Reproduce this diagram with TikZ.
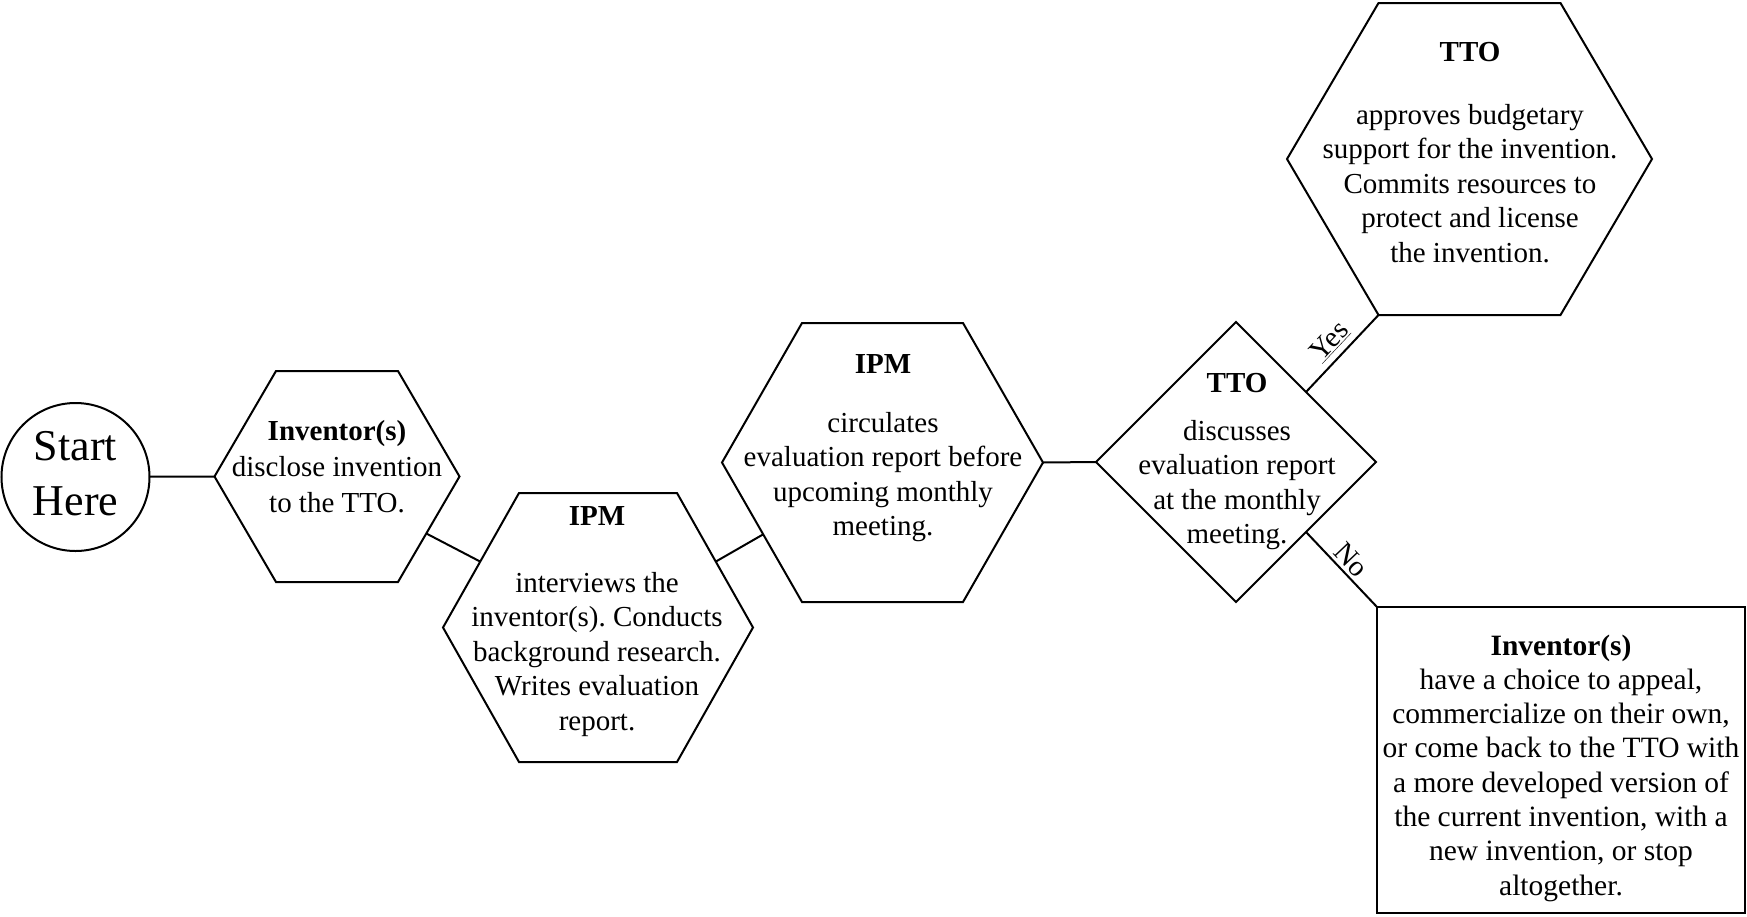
\documentclass[tikz,border=0pt]{standalone}
\usepackage{fontspec}
\setmainfont{Liberation Serif}
\frenchspacing
\usetikzlibrary{calc,shapes.geometric}
\tikzset{
  frame/.style={draw=black, line width=2pt},
  txt/.style={inner sep=0pt, outer sep=0pt, anchor=north, font=\fontsize{29}{34.5}\selectfont},
  lbl/.style={sloped, above, inner sep=3pt, font=\fontsize{29}{34.5}\selectfont},
}
\newcommand\hexframe[6]{%
  \coordinate (#1) at (#2,#3);
  \path (#1) ++(-#4,0) coordinate (#1-w)
        (#1) ++(-#6,-#5) coordinate (#1-nw)
        (#1) ++(#6,-#5) coordinate (#1-ne)
        (#1) ++(#4,0) coordinate (#1-e)
        (#1) ++(#6,#5) coordinate (#1-se)
        (#1) ++(-#6,#5) coordinate (#1-sw);
  \draw[frame] (#1-w) -- (#1-nw) -- (#1-ne) -- (#1-e) -- (#1-se) -- (#1-sw) -- cycle;
}
\begin{document}
\begin{tikzpicture}[x=1pt,y=-1pt]
\useasboundingbox (0,0) rectangle (1747,916);
\fill[white] (0,0) rectangle (1747,916);

% start circle
\node[frame, circle, minimum size=148pt, inner sep=0pt, outer sep=0pt,
      font=\fontsize{44}{55}\selectfont] (start) at (75.5,477)
  {\begin{tabular}{@{}c@{}}Start\\Here\end{tabular}};

% hexagons
\hexframe{h1}{337}{476.5}{122.5}{105.5}{61}
\hexframe{h2}{598}{627.5}{155}{134.5}{79}
\hexframe{h3}{882.5}{462.5}{160.5}{139.5}{80.5}
\hexframe{h4}{1469.5}{159}{182.5}{156}{91}

% decision diamond
\node[frame, diamond, minimum width=280pt, minimum height=280pt, inner sep=0pt, outer sep=0pt, aspect=1] (d) at (1236,462) {};

% outcome box
\node[frame, rectangle, minimum width=368pt, minimum height=306pt, inner sep=0pt, outer sep=0pt] (out) at (1561,760) {};

% texts
\node[txt, font=\fontsize{29}{36}\selectfont] (t1) at (337,414.8)
  {\begin{tabular}{@{}c@{}}\textbf{Inventor(s)}\\disclose invention\\to the TTO.\end{tabular}};
\node[txt] (t2) at (597,500.85)
  {\begin{tabular}{@{}c@{}}\textbf{IPM}\\[32.5pt]interviews the\\inventor(s). Conducts\\background research.\\Writes evaluation\\report.\end{tabular}};
\node[txt] (t3) at (883,348.85)
  {\begin{tabular}{@{}c@{}}\textbf{IPM}\\[24.5pt]circulates\\evaluation report before\\upcoming monthly\\meeting.\end{tabular}};
\node[txt] (t4) at (1237,367.85)
  {\begin{tabular}{@{}c@{}}\textbf{TTO}\\[13.5pt]discusses\\evaluation report\\at the monthly\\meeting.\end{tabular}};
\node[txt] (t5) at (1470,36.85)
  {\begin{tabular}{@{}c@{}}\textbf{TTO}\\[28.5pt]approves budgetary\\support for the invention.\\Commits resources to\\protect and license\\the invention.\end{tabular}};
\node[txt, font=\fontsize{29.5}{34.3}\selectfont] (t6) at (1561,631)
  {\begin{tabular}{@{}c@{}}\textbf{Inventor(s)}\\have a choice to appeal,\\commercialize on their own,\\or come back to the TTO with\\a more developed version of\\the current invention, with a\\new invention, or stop\\altogether.\end{tabular}};

% connector end points
\coordinate (c1a) at ($(h1-e)!0.54!(h1-se)$);
\coordinate (c1b) at ($(h2-w)!0.49!(h2-nw)$);
\coordinate (c2a) at ($(h2-e)!0.49!(h2-ne)$);
\coordinate (c2b) at ($(h3-w)!0.515!(h3-sw)$);

% connectors
\draw[frame] (start) -- (h1-w);
\draw[frame] (c1a) -- (c1b);
\draw[frame] (c2a) -- (c2b);
\draw[frame] (h3-e) -- (d.west);
\draw[frame] (d.north east) -- node[lbl, inner sep=6pt] {\underline{Yes}} (h4-sw);
\draw[frame] (d.south east) -- node[lbl] {No} (out.north west);
\end{tikzpicture}
\end{document}
